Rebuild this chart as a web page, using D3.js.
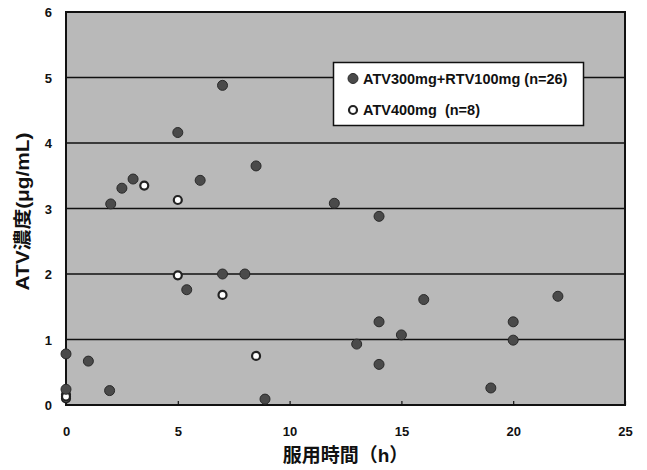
<!DOCTYPE html>
<html>
<head>
<meta charset="utf-8">
<script src="https://cdn.jsdelivr.net/npm/d3@7"></script>
<style>
  body { margin: 0; background: #fff; }
  text { font-family: "Liberation Sans", Arial, "Noto Sans CJK JP", sans-serif; }
</style>
</head>
<body>
<svg id="svg"></svg>
<script>
// ATV300mg+RTV100mg (filled)
var comboX = [0, 0, 1, 1.95, 2, 2.5, 3, 5, 5.4, 6, 7, 7, 8, 8.5, 8.9, 12, 13, 14, 14, 14, 15, 16, 19, 20, 20, 22];
var comboY = [0.78, 0.24, 0.67, 0.22, 3.07, 3.31, 3.45, 4.16, 1.76, 3.43, 4.88, 2.0, 2.0, 3.65, 0.09, 3.08, 0.93, 2.88, 1.27, 0.62, 1.07, 1.61, 0.26, 1.27, 0.99, 1.66];
// ATV400mg (open)
var monoX = [0, 0, 3.5, 5, 5, 7, 8.5, 0];
var monoY = [0.1, 0.16, 3.35, 3.13, 1.98, 1.68, 0.75, 0.13];

var xTicks = [0, 5, 10, 15, 20, 25];
var yTicks = [0, 1, 2, 3, 4, 5, 6];
var legendLabels = ["ATV300mg+RTV100mg (n=26)", "ATV400mg\u00a0 (n=8)"];
var xTitle = "服用時間（h）";
var yTitle = "ATV濃度(μg/mL)";

var width = 647, height = 470;
var margin = {left: 66, right: 22, top: 12, bottom: 65};
var plotW = width - margin.left - margin.right,
    plotH = height - margin.top - margin.bottom;

var svg = d3.select("#svg")
    .attr("width", width)
    .attr("height", height);

var x = d3.scaleLinear().domain([0, 25]).range([margin.left, margin.left + plotW]);
var y = d3.scaleLinear().domain([0, 6]).range([margin.top + plotH, margin.top]);

// plot background
svg.append("rect")
    .attr("x", x(0)).attr("y", y(6))
    .attr("width", x(25) - x(0)).attr("height", y(0) - y(6))
    .attr("fill", "#b9b9b9");

// gridlines
svg.selectAll(".grid")
    .data(yTicks.slice(1, -1))
    .enter().append("line")
    .attr("x1", x(0)).attr("x2", x(25))
    .attr("y1", function(d) { return y(d); })
    .attr("y2", function(d) { return y(d); })
    .attr("stroke", "#111").attr("stroke-width", 1.5);

// axes
var xAxis = d3.axisBottom(x).tickValues(xTicks).tickFormat(d3.format("d"))
    .tickSize(-4).tickPadding(22);
var yAxis = d3.axisLeft(y).tickValues(yTicks).tickFormat(d3.format("d"))
    .tickSize(0).tickPadding(14);

var gx = svg.append("g").attr("transform", "translate(0," + y(0) + ")").call(xAxis);
var gy = svg.append("g").attr("transform", "translate(" + x(0) + ",0)").call(yAxis);
[gx, gy].forEach(function(g) {
    g.select(".domain").remove();
    g.selectAll(".tick line").attr("stroke", "#111").attr("stroke-width", 1.2);
    g.selectAll(".tick text")
        .attr("fill", "#111")
        .attr("font-size", 13)
        .attr("font-weight", "bold")
        .style("font-family", "'Liberation Sans', Arial, sans-serif");
});
gy.selectAll(".tick text").attr("dy", "0.36em");

// border
svg.append("rect")
    .attr("x", x(0)).attr("y", y(6))
    .attr("width", x(25) - x(0)).attr("height", y(0) - y(6))
    .attr("fill", "none").attr("stroke", "#111").attr("stroke-width", 2);

// points
svg.selectAll(".open")
    .data(d3.range(monoX.length))
    .enter().append("circle")
    .attr("cx", function(i) { return x(monoX[i]); })
    .attr("cy", function(i) { return y(monoY[i]); })
    .attr("r", 4)
    .attr("fill", "#fff").attr("stroke", "#222").attr("stroke-width", 2.2);

svg.selectAll(".filled")
    .data(d3.range(comboX.length))
    .enter().append("circle")
    .attr("cx", function(i) { return x(comboX[i]); })
    .attr("cy", function(i) { return y(comboY[i]); })
    .attr("r", 5)
    .attr("fill", "#4a4a4a").attr("stroke", "#2a2a2a").attr("stroke-width", 1);

// legend
var lg = svg.append("g");
lg.append("rect")
    .attr("x", 333.5).attr("y", 62.5).attr("width", 250).attr("height", 63)
    .attr("fill", "#fff").attr("stroke", "#111").attr("stroke-width", 1.5);
lg.append("circle").attr("cx", 353).attr("cy", 78.5).attr("r", 5)
    .attr("fill", "#4a4a4a").attr("stroke", "#2a2a2a").attr("stroke-width", 1);
lg.append("circle").attr("cx", 353).attr("cy", 110).attr("r", 4)
    .attr("fill", "#fff").attr("stroke", "#222").attr("stroke-width", 2.2);
lg.selectAll(".lt")
    .data(legendLabels)
    .enter().append("text")
    .attr("x", 363)
    .attr("y", function(d, i) { return i == 0 ? 83.5 : 115; })
    .attr("font-size", 14.5)
    .attr("font-weight", "bold")
    .attr("fill", "#111")
    .text(function(d) { return d; });

// axis titles
svg.append("text")
    .attr("x", (x(0) + x(25)) / 2)
    .attr("y", 462)
    .attr("text-anchor", "middle")
    .attr("font-size", 19)
    .attr("font-weight", "bold")
    .attr("fill", "#111")
    .text(xTitle);

svg.append("text")
    .attr("transform", "translate(29," + ((y(0) + y(6)) / 2 + 3) + ") rotate(-90)")
    .attr("text-anchor", "middle")
    .attr("font-size", 18)
    .attr("font-weight", "bold")
    .attr("textLength", 158)
    .attr("lengthAdjust", "spacingAndGlyphs")
    .attr("fill", "#111")
    .text(yTitle);
</script>
</body>
</html>
